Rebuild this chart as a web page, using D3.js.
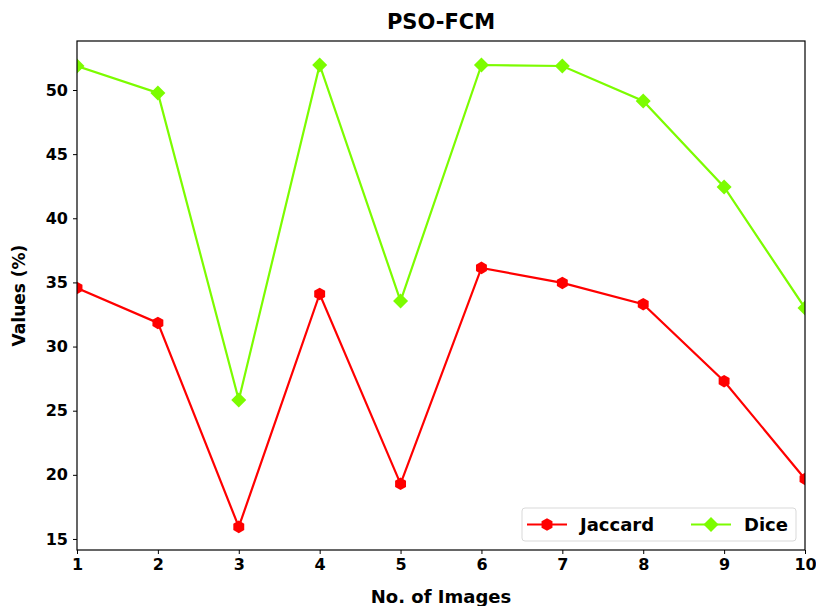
<!DOCTYPE html>
<html>
<head>
<meta charset="utf-8">
<script src="https://cdn.jsdelivr.net/npm/d3@7"></script>
<style>
  body { margin: 0; background: #fff; }
  text { font-family: "DejaVu Sans", sans-serif; font-weight: bold; fill: #000; }
</style>
</head>
<body>
<svg id="chart" width="816" height="606"></svg>
<script>
var images = [1, 2, 3, 4, 5, 6, 7, 8, 9, 10];
var jaccard = [34.57, 31.84, 15.94, 34.1, 19.3, 36.13, 34.96, 33.3, 27.3, 19.68];
var dice = [51.87, 49.77, 25.84, 51.95, 33.55, 51.95, 51.87, 49.14, 42.44, 33.0];
var yTicks = [15, 20, 25, 30, 35, 40, 45, 50];

var MARGINS = {top: 41, right: 11, bottom: 56, left: 77};
var WIDTH = 816, HEIGHT = 606;

var svg = d3.select('#chart');

var xRange = d3.scaleLinear()
    .domain([1, 10])
    .range([MARGINS.left, WIDTH - MARGINS.right]);
var yRange = d3.scaleLinear()
    .domain([14.14, 53.82])
    .range([HEIGHT - MARGINS.bottom, MARGINS.top]);

svg.append('clipPath').attr('id', 'plotClip')
  .append('rect')
    .attr('x', MARGINS.left)
    .attr('y', MARGINS.top)
    .attr('width', WIDTH - MARGINS.right - MARGINS.left)
    .attr('height', HEIGHT - MARGINS.bottom - MARGINS.top);

// axes
var xAxis = d3.axisBottom(xRange).tickValues(images).tickSize(4).tickPadding(5);
var yAxis = d3.axisLeft(yRange).tickValues(yTicks).tickSize(4).tickPadding(5);

var gx = svg.append('g')
    .attr('transform', 'translate(0,' + (HEIGHT - MARGINS.bottom) + ')')
    .call(xAxis);
var gy = svg.append('g')
    .attr('transform', 'translate(' + MARGINS.left + ',0)')
    .call(yAxis);
[gx, gy].forEach(function(g){
    g.select('.domain').remove();
    g.selectAll('.tick line').attr('stroke', '#000').attr('stroke-width', 1);
    g.selectAll('.tick text').style('font-size', '16px');
});

// series
var series = [
    {name: 'Jaccard', values: jaccard, color: '#ff0000', symbol: 'hex'},
    {name: 'Dice', values: dice, color: '#7cfc00', symbol: 'diamond'}
];

function hexPath(r){
    var pts = [];
    for(var i = 0; i < 6; i++){
        var a = Math.PI/6 + i*Math.PI/3;
        pts.push([r*Math.cos(a), r*Math.sin(a)]);
    }
    return 'M' + pts.map(function(p){ return p.join(','); }).join('L') + 'Z';
}
function diamondPath(r){
    return 'M0,' + (-r) + 'L' + r + ',0L0,' + r + 'L' + (-r) + ',0Z';
}
function markerPath(s){
    return s === 'hex' ? hexPath(6.3) : diamondPath(7.5);
}

var lineFunc = d3.line()
    .x(function(d, i){ return xRange(images[i]); })
    .y(function(d){ return yRange(d); });

var plot = svg.append('g').attr('clip-path', 'url(#plotClip)');
series.forEach(function(s){
    plot.append('path')
        .attr('d', lineFunc(s.values))
        .attr('stroke', s.color)
        .attr('stroke-width', 2.2)
        .attr('fill', 'none');
    plot.selectAll(null)
        .data(s.values)
      .enter().append('path')
        .attr('d', markerPath(s.symbol))
        .attr('transform', function(d, i){ return 'translate(' + xRange(images[i]) + ',' + yRange(d) + ')'; })
        .attr('fill', s.color);
});

// frame
svg.append('rect')
    .attr('x', MARGINS.left)
    .attr('y', MARGINS.top)
    .attr('width', WIDTH - MARGINS.right - MARGINS.left)
    .attr('height', HEIGHT - MARGINS.bottom - MARGINS.top)
    .attr('fill', 'none')
    .attr('stroke', '#000')
    .attr('stroke-width', 1.2);

// legend
var legend = svg.append('g');
legend.append('rect')
    .attr('x', 522).attr('y', 508)
    .attr('width', 274).attr('height', 33)
    .attr('rx', 3)
    .attr('fill', '#fff')
    .attr('fill-opacity', 0.8)
    .attr('stroke', '#d9d9d9');
var legendX = [527, 691];
series.forEach(function(s, i){
    var lx = legendX[i], ly = 524.5;
    legend.append('line')
        .attr('x1', lx).attr('x2', lx + 40)
        .attr('y1', ly).attr('y2', ly)
        .attr('stroke', s.color).attr('stroke-width', 2.2);
    legend.append('path')
        .attr('d', markerPath(s.symbol))
        .attr('transform', 'translate(' + (lx + 20) + ',' + ly + ')')
        .attr('fill', s.color);
    legend.append('text')
        .attr('x', lx + 53).attr('y', ly)
        .attr('dy', '0.35em')
        .style('font-size', '18px')
        .text(s.name);
});

// titles
svg.append('text')
    .attr('x', (MARGINS.left + WIDTH - MARGINS.right)/2)
    .attr('y', 29)
    .attr('text-anchor', 'middle')
    .style('font-size', '21px')
    .text('PSO-FCM');
svg.append('text')
    .attr('x', (MARGINS.left + WIDTH - MARGINS.right)/2)
    .attr('y', 603)
    .attr('text-anchor', 'middle')
    .style('font-size', '18px')
    .text('No. of Images');
svg.append('text')
    .attr('transform', 'translate(25,' + ((MARGINS.top + HEIGHT - MARGINS.bottom)/2) + ') rotate(-90)')
    .attr('text-anchor', 'middle')
    .style('font-size', '17px')
    .text('Values (%)');
</script>
</body>
</html>
